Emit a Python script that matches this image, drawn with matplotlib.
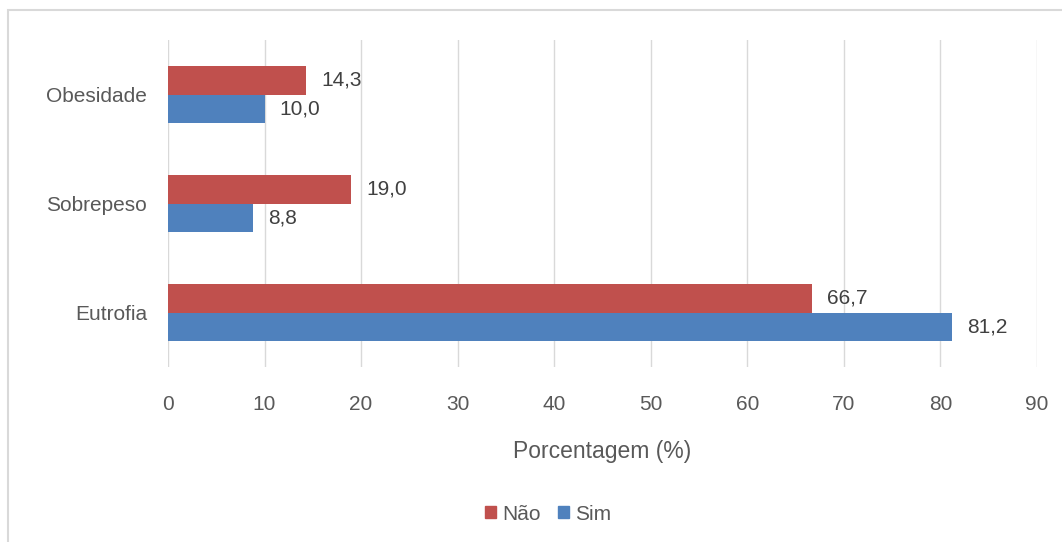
import matplotlib
matplotlib.use("Agg")
import matplotlib.pyplot as plt
from matplotlib.patches import Rectangle, Patch
import numpy as np

categories = ["Eutrofia", "Sobrepeso", "Obesidade"]
nao = [66.7, 19.0, 14.3]
sim = [81.2, 8.8, 10.0]
xticks = [0, 10, 20, 30, 40, 50, 60, 70, 80, 90]

RED = "#C0504D"
BLUE = "#4F81BD"
TXT = "#595959"

plt.rcParams['font.family'] = ['Liberation Sans', 'DejaVu Sans']

fig = plt.figure(figsize=(10.62, 5.42), dpi=100)
ax = fig.add_axes([168/1062, 1-367/542, (1037-168)/1062, (367-40)/542])

y = np.arange(len(categories))
h = 0.265
b1 = ax.barh(y + h/2, nao, height=h, color=RED, label="Não", zorder=3)
b2 = ax.barh(y - h/2, sim, height=h, color=BLUE, label="Sim", zorder=3)

def fmt(v):
    return f"{v:.1f}".replace(".", ",")

for bars, vals in ((b1, nao), (b2, sim)):
    for bar, v in zip(bars, vals):
        ax.annotate(fmt(v), (v, bar.get_y() + bar.get_height()/2),
                    xytext=(15, 0), textcoords="offset pixels",
                    va="center", ha="left", fontsize=15, color="#404040")

ax.set_xlim(0, 90)
ax.set_ylim(-0.5, 2.5)
ax.set_xticks(xticks)
ax.set_xticklabels([str(t) for t in xticks])
ax.set_yticks(y)
ax.set_yticklabels(categories)
ax.tick_params(axis="both", length=0, labelsize=15, colors=TXT)
ax.tick_params(axis="x", pad=20)
ax.tick_params(axis="y", pad=15)
ax.grid(axis="x", color="#D9D9D9", linewidth=1, zorder=0)
for s in ax.spines.values():
    s.set_visible(False)

ax.set_xlabel("Porcentagem (%)", fontsize=16.5, color=TXT, labelpad=19)

handles = [Patch(color=RED, label="Não"), Patch(color=BLUE, label="Sim")]
fig.legend(handles=handles, loc="center", bbox_to_anchor=(548/1062, 1-514/542),
           ncol=2, frameon=False, fontsize=15, handlelength=0.55, handleheight=0.55,
           handletextpad=0.3, columnspacing=0.8, labelcolor=TXT)

fig.patches.append(Rectangle((8/1062, -0.01), 1.05, 1-10/542 + 0.01, transform=fig.transFigure,
                             fill=False, edgecolor="#D9D9D9", linewidth=1.5))

fig.savefig("out.png", dpi=100, facecolor="white")
